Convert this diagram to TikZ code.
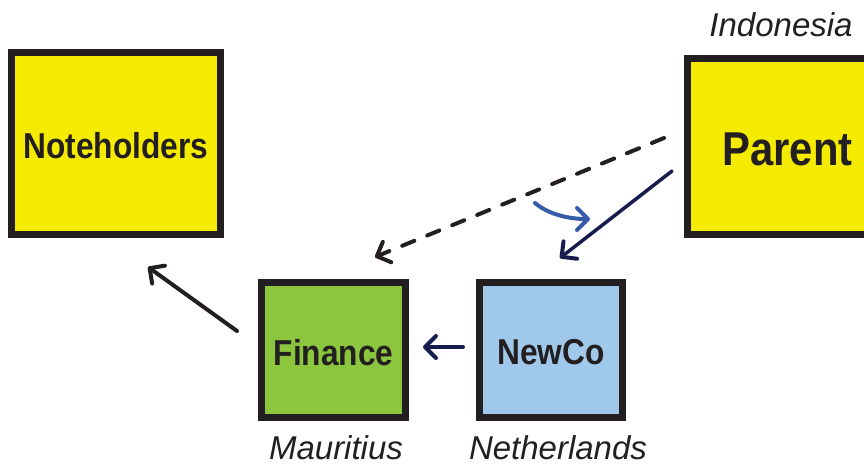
\documentclass[tikz,border=0pt]{standalone}
\usepackage{fontspec}
\setmainfont{Liberation Sans}
\newfontfamily\boxfont[FakeStretch=0.88]{Liberation Sans}
\usetikzlibrary{arrows.meta}
\definecolor{edge}{RGB}{35,31,32}
\definecolor{boxyellow}{RGB}{245,235,0}
\definecolor{boxgreen}{RGB}{140,198,63}
\definecolor{boxblue}{RGB}{160,200,235}
\definecolor{navy}{RGB}{22,28,78}
\definecolor{swirl}{RGB}{52,92,170}
% pad the top of a label so it sits a little lower in its box
\newcommand{\droplabel}[1]{\raisebox{0pt}[\dimexpr\height+5pt][\depth]{#1}}
\tikzset{
  entity/.style={draw=edge, line width=7pt, rectangle, inner sep=0pt,
    text=edge, font=\boxfont\bfseries\fontsize{36}{40}\selectfont},
  place/.style={text=edge, font=\itshape\fontsize{33}{36}\selectfont, inner sep=0pt, anchor=base},
  flow/.style={line width=4pt, line cap=round,
    -{Straight Barb[length=11pt, width=22pt, line width=4pt, round]}},
}
\begin{document}
\begin{tikzpicture}[x=1pt, y=-1pt]
  \useasboundingbox (0,0) rectangle (864,466);
  \clip (0,0) rectangle (864,466);

  % entities
  \node[entity, fill=boxyellow, minimum width=209pt, minimum height=182pt]
    (notes) at (116,143.5) {\droplabel{Noteholders}};
  \node[entity, fill=boxgreen, minimum width=144pt, minimum height=135pt]
    (finance) at (333.5,350) {\droplabel{Finance}};
  \node[entity, fill=boxblue, minimum width=143pt, minimum height=135pt]
    (newco) at (551,350) {\droplabel{NewCo}};
  \node[entity, fill=boxyellow, minimum width=200pt, minimum height=176pt,
    font=\boxfont\bfseries\fontsize{47.5}{52}\selectfont]
    (parent) at (787.5,146.5) {\droplabel{Parent}};

  % jurisdictions
  \node[place] (indo) at (781,36) {Indonesia};
  \node[place] (maur) at (336,459) {Mauritius};
  \node[place] (neth) at (558,459) {Netherlands};

  % connector end points
  \coordinate (pdash) at (664,138);
  \coordinate (fdash) at (375,257);
  \coordinate (psolid) at (672,171);
  \coordinate (nsolid) at (560,258);
  \coordinate (fout) at (237,331);
  \coordinate (nin) at (148,267);
  \coordinate (nout) at (463,347);
  \coordinate (fin) at (423,347);
  \coordinate (cs) at (535,203);
  \coordinate (ce) at (590,219);

  % flows
  \draw[flow, edge, dash pattern=on 13pt off 14pt] (pdash) -- (fdash);
  \draw[flow, navy, line width=3.5pt] (psolid) -- (nsolid);
  \draw[flow, edge] (fout) -- (nin);
  \draw[flow, navy] (nout) -- (fin);
  \draw[flow, swirl] (cs) .. controls (548,214) and (568,219) .. (ce);
\end{tikzpicture}
\end{document}
